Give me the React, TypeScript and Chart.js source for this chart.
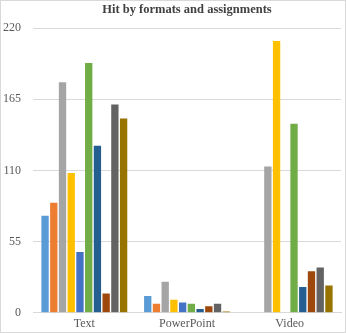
import React, { useEffect, useRef } from "react";
import { Chart, registerables } from "chart.js";

Chart.register(...registerables);

const categories = ["Text", "PowerPoint", "Video"];
const s1 = [75, 13, 0];
const s2 = [85, 7, 0];
const s3 = [178, 24, 113];
const s4 = [108, 10, 210];
const s5 = [47, 8, 0];
const s6 = [193, 7, 146];
const s7 = [129, 3, 20];
const s8 = [15, 5, 32];
const s9 = [161, 7, 35];
const s10 = [150, 1, 21];
const seriesValues = [s1, s2, s3, s4, s5, s6, s7, s8, s9, s10];
const seriesNames = ["S1", "S2", "S3", "S4", "S5", "S6", "S7", "S8", "S9", "S10"];
const seriesColors = [
  "#5B9BD5",
  "#ED7D31",
  "#A5A5A5",
  "#FFC000",
  "#4472C4",
  "#70AD47",
  "#255E91",
  "#9E480E",
  "#636363",
  "#997300",
];
const yTicks = [0, 55, 110, 165, 220];

export default function App() {
  const ref = useRef<HTMLCanvasElement | null>(null);
  useEffect(() => {
    if (!ref.current) return;
    const font = "'Liberation Serif', 'Times New Roman', serif";
    const chart = new Chart(ref.current, {
      type: "bar",
      data: {
        labels: categories,
        datasets: seriesValues.map((v, i) => ({
          label: seriesNames[i],
          data: v,
          backgroundColor: seriesColors[i],
          borderWidth: 0,
          categoryPercentage: 0.85,
          barPercentage: 0.84,
        })),
      },
      options: {
        animation: false,
        responsive: false,
        maintainAspectRatio: false,
        layout: { padding: { left: 0, right: 4, top: 0, bottom: 0 } },
        plugins: {
          legend: { display: false },
          tooltip: { enabled: false },
          title: {
            display: true,
            text: "Hit by formats and assignments",
            color: "#404040",
            fullSize: false,
            font: { family: font, size: 12.5, weight: "bold" },
            padding: { top: 1, bottom: 11 },
          },
        },
        scales: {
          x: {
            grid: { display: false, drawTicks: false },
            border: { color: "#d9d9d9" },
            ticks: { color: "#595959", font: { family: font, size: 12 }, padding: 4 },
            afterFit: (axis: any) => {
              axis.height = 19;
            },
          },
          y: {
            min: 0,
            max: 220,
            afterBuildTicks: (axis: any) => {
              axis.ticks = yTicks.map((v) => ({ value: v }));
            },
            afterFit: (axis: any) => {
              axis.width = 32;
            },
            grid: { color: "#d9d9d9", drawTicks: false },
            border: { display: false },
            ticks: { color: "#595959", font: { family: font, size: 12 }, padding: 12 },
          },
        },
      },
    });
    return () => chart.destroy();
  }, []);
  return (
    <div
      style={{
        position: "absolute",
        left: 0,
        top: 0,
        width: 346,
        height: 333,
        boxSizing: "border-box",
        border: "1px solid #d9d9d9",
        background: "#fff",
      }}
    >
      <canvas ref={ref} width={344} height={331} style={{ display: "block" }} />
    </div>
  );
}
